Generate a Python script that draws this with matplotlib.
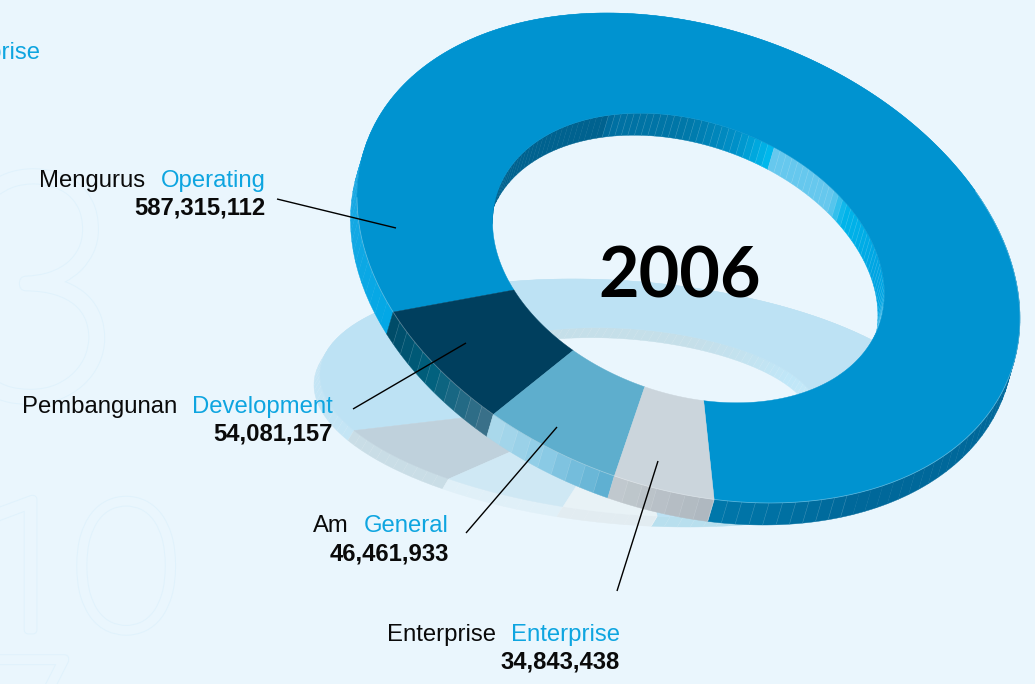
import numpy as np
import matplotlib
matplotlib.use('Agg')
import matplotlib.pyplot as plt
from matplotlib.patches import Polygon
from matplotlib.colors import to_rgb
import matplotlib.patheffects as pe

# spending by category, 2006
names_ms = ['Mengurus', 'Pembangunan', 'Am', 'Enterprise']
names_en = ['Operating', 'Development', 'General', 'Enterprise']
values = [587315112, 54081157, 46461933, 34843438]
year = '2006'

BG = '#eaf6fd'
BLUE = '#0ea5e0'
START = 153.0  # where Development begins, going towards the bottom of the ring
HOLE = 0.591

top_cols = ['#0093d0', '#003f5e', '#5eaecd', '#cbd5dc']
ghost_cols = ['#bde2f4', '#bfd1dc', '#cfe8f4', '#e8f2f6']

# wall shading, (angle, colour) stops per slice
outer_stops = [
    [(-210, '#00a8e6'), (-170, '#1ea8e2'), (-30, '#0090c8'), (10, '#00689a'), (60, '#00689a'), (86, '#0078ab')],
    [(127, '#3a7089'), (140, '#00607e'), (153, '#004a66')],
    [(104, '#5eb0d2'), (115, '#8ccbe6'), (127, '#b0dbec')],
    [(86, '#aeb7bf'), (104, '#c3cbd0')],
]
inner_stops = [(180, '#00628f'), (245, '#00628f'), (248, '#0070a2'), (270, '#0077a8'), (285, '#0090c8'),
               (295, '#00b8ec'), (297, '#66c8ee'), (318, '#66c8ee'), (324, '#00b5ea'), (345, '#00a5e3'),
               (360, '#00a5e3'), (375, '#7fd0f0'), (400, '#7fd0f0')]
ghost_outer = [
    [(-210, '#c4e5f5'), (-150, '#c4e5f5'), (60, '#b8dfee'), (86, '#b8dfee')],
    [(127, '#c9dde6'), (153, '#c9dde6')],
    [(104, '#e0f0f8'), (127, '#e0f0f8')],
    [(86, '#e2ecf1'), (104, '#e2ecf1')],
]
ghost_inner = [(180, '#c5dfe9'), (290, '#c5dfe9'), (330, '#c0e7f8'), (400, '#d5eef9')]


def blend(stops, t):
    ang = [s[0] for s in stops]
    rgb = np.array([to_rgb(s[1]) for s in stops])
    return tuple(np.interp(t, ang, rgb[:, i]) for i in range(3))


class Ring:
    def __init__(self, cx, cy, hw, hh, tilt, drop):
        self.c = np.array([cx, cy])
        self.m = np.array([[hw, 0.0], [tilt, np.sqrt(hh ** 2 - tilt ** 2)]])
        self.drop = np.array(drop)

    def pts(self, t, r=1.0, down=False):
        t = np.radians(np.atleast_1d(t))
        p = self.c + r * np.column_stack([np.cos(t), np.sin(t)]) @ self.m.T
        return p + self.drop if down else p


def wall(ax, ring, a, b, r, stops, z, step=2.4, seam=0.35, seam_from=-999):
    n = max(int(abs(b - a) / step), 1)
    tt = np.linspace(a, b, n + 1)
    for t0, t1 in zip(tt[:-1], tt[1:]):
        s = np.linspace(t0, t1, 4)
        poly = np.vstack([ring.pts(s, r), ring.pts(s[::-1], r, True)])
        col = blend(stops, 0.5 * (t0 + t1))
        ax.add_patch(Polygon(poly, closed=True, fc=col, ec=col, lw=0.3, zorder=z))
        if t1 > seam_from:
            seg = np.vstack([ring.pts(t1, r), ring.pts(t1, r, True)])
            ax.plot(seg[:, 0], seg[:, 1], color='white', lw=0.6, alpha=seam, solid_capstyle='butt', zorder=z)


def face(ax, ring, a, b, col, z):
    s = np.linspace(a, b, int(abs(b - a)) + 2)
    poly = np.vstack([ring.pts(s), ring.pts(s[::-1], HOLE)])
    ax.add_patch(Polygon(poly, closed=True, fc=col, ec=col, lw=0.3, zorder=z))


# slice spans from the values, Operating takes the rest of the circle
vals = np.array(values, dtype=float)
deg = vals / vals.sum() * 360.0
e1 = START - deg[1]
e2 = e1 - deg[2]
e3 = e2 - deg[3]
spans = [(e3, START - 360.0), (START, e1), (e1, e2), (e2, e3)]

fig = plt.figure(figsize=(10.35, 6.84), dpi=100, facecolor=BG)
ax = fig.add_axes([0, 0, 1, 1])
ax.set_xlim(0, 1035)
ax.set_ylim(684, 0)
ax.axis('off')

# faint outlined digits behind everything
for txt, fam, x, y, fs, lw in [('3', 'Lato', -59, 396, 225, 8.0), ('1', 'Roboto', -26, 630, 132, 5.0),
                               ('0', 'Lato', 73, 630, 132, 5.0), ('7', 'Lato', -32, 787, 132, 5.0)]:
    ax.text(x, y, txt, family=fam, fontsize=fs, fontweight='light', color=BG, ha='left', va='baseline', zorder=1,
            path_effects=[pe.Stroke(linewidth=lw + 1.4, foreground='#e0f2fc'),
                          pe.Stroke(linewidth=lw, foreground=BG), pe.Normal()])

# pale copy under the ring
ghost = Ring(633, 398, 313, 119, 23, (-6, 10))
for i, (a, b) in enumerate(spans):
    wall(ax, ghost, a, b, 1.0, ghost_outer[i], 2)
wall(ax, ghost, 180, 400, HOLE, ghost_inner, 2)
for i, (a, b) in enumerate(spans):
    face(ax, ghost, a, b, ghost_cols[i], 3)

ring = Ring(688.5, 258, 331.5, 245, 60.3, (-6.5, 22))
for i, (a, b) in enumerate(spans):
    wall(ax, ring, a, b, 1.0, outer_stops[i], 4, seam_from=60 if i == 0 else -999)
wall(ax, ring, 180, 400, HOLE, inner_stops, 4, step=2.0, seam_from=245)
for i, (a, b) in enumerate(spans):
    face(ax, ring, a, b, top_cols[i], 5)
rim = ring.pts(np.linspace(-30, 180, 200))
ax.plot(rim[:, 0], rim[:, 1], color='white', lw=0.6, alpha=0.3, zorder=5)

# labels
FS = 17.2
label_pos = [(145, 265.5, 187, 215), (177, 332.5, 413, 441), (349, 448.5, 532, 560), (496, 620, 641, 669)]
for i, (xk, xb, y0, y1) in enumerate(label_pos):
    ax.text(xk, y0, names_ms[i], family='Liberation Sans', fontsize=FS, color='#0a0a0a', ha='right', va='baseline', zorder=7)
    ax.text(xb, y0, names_en[i], family='Liberation Sans', fontsize=FS, color=BLUE, ha='right', va='baseline', zorder=7)
    ax.text(xb, y1, f'{values[i]:,}', family='Liberation Sans', fontsize=FS, fontweight='bold', color='#0a0a0a', ha='right', va='baseline', zorder=7)
ax.text(40, 59, names_en[3], family='Liberation Sans', fontsize=FS, color=BLUE, ha='right', va='baseline', zorder=7)

for xs, ys in [((277, 396), (199, 228)), ((353, 466), (409, 343)), ((466, 557), (533, 427)), ((617, 658), (591, 461))]:
    ax.plot(xs, ys, color='black', lw=1.0, solid_capstyle='butt', zorder=6)

ax.text(680, 297, year, family='Lato', fontsize=50.5, fontweight='bold', color='black', ha='center', va='baseline', zorder=7)

fig.savefig('out.png', dpi=100, facecolor=BG)
